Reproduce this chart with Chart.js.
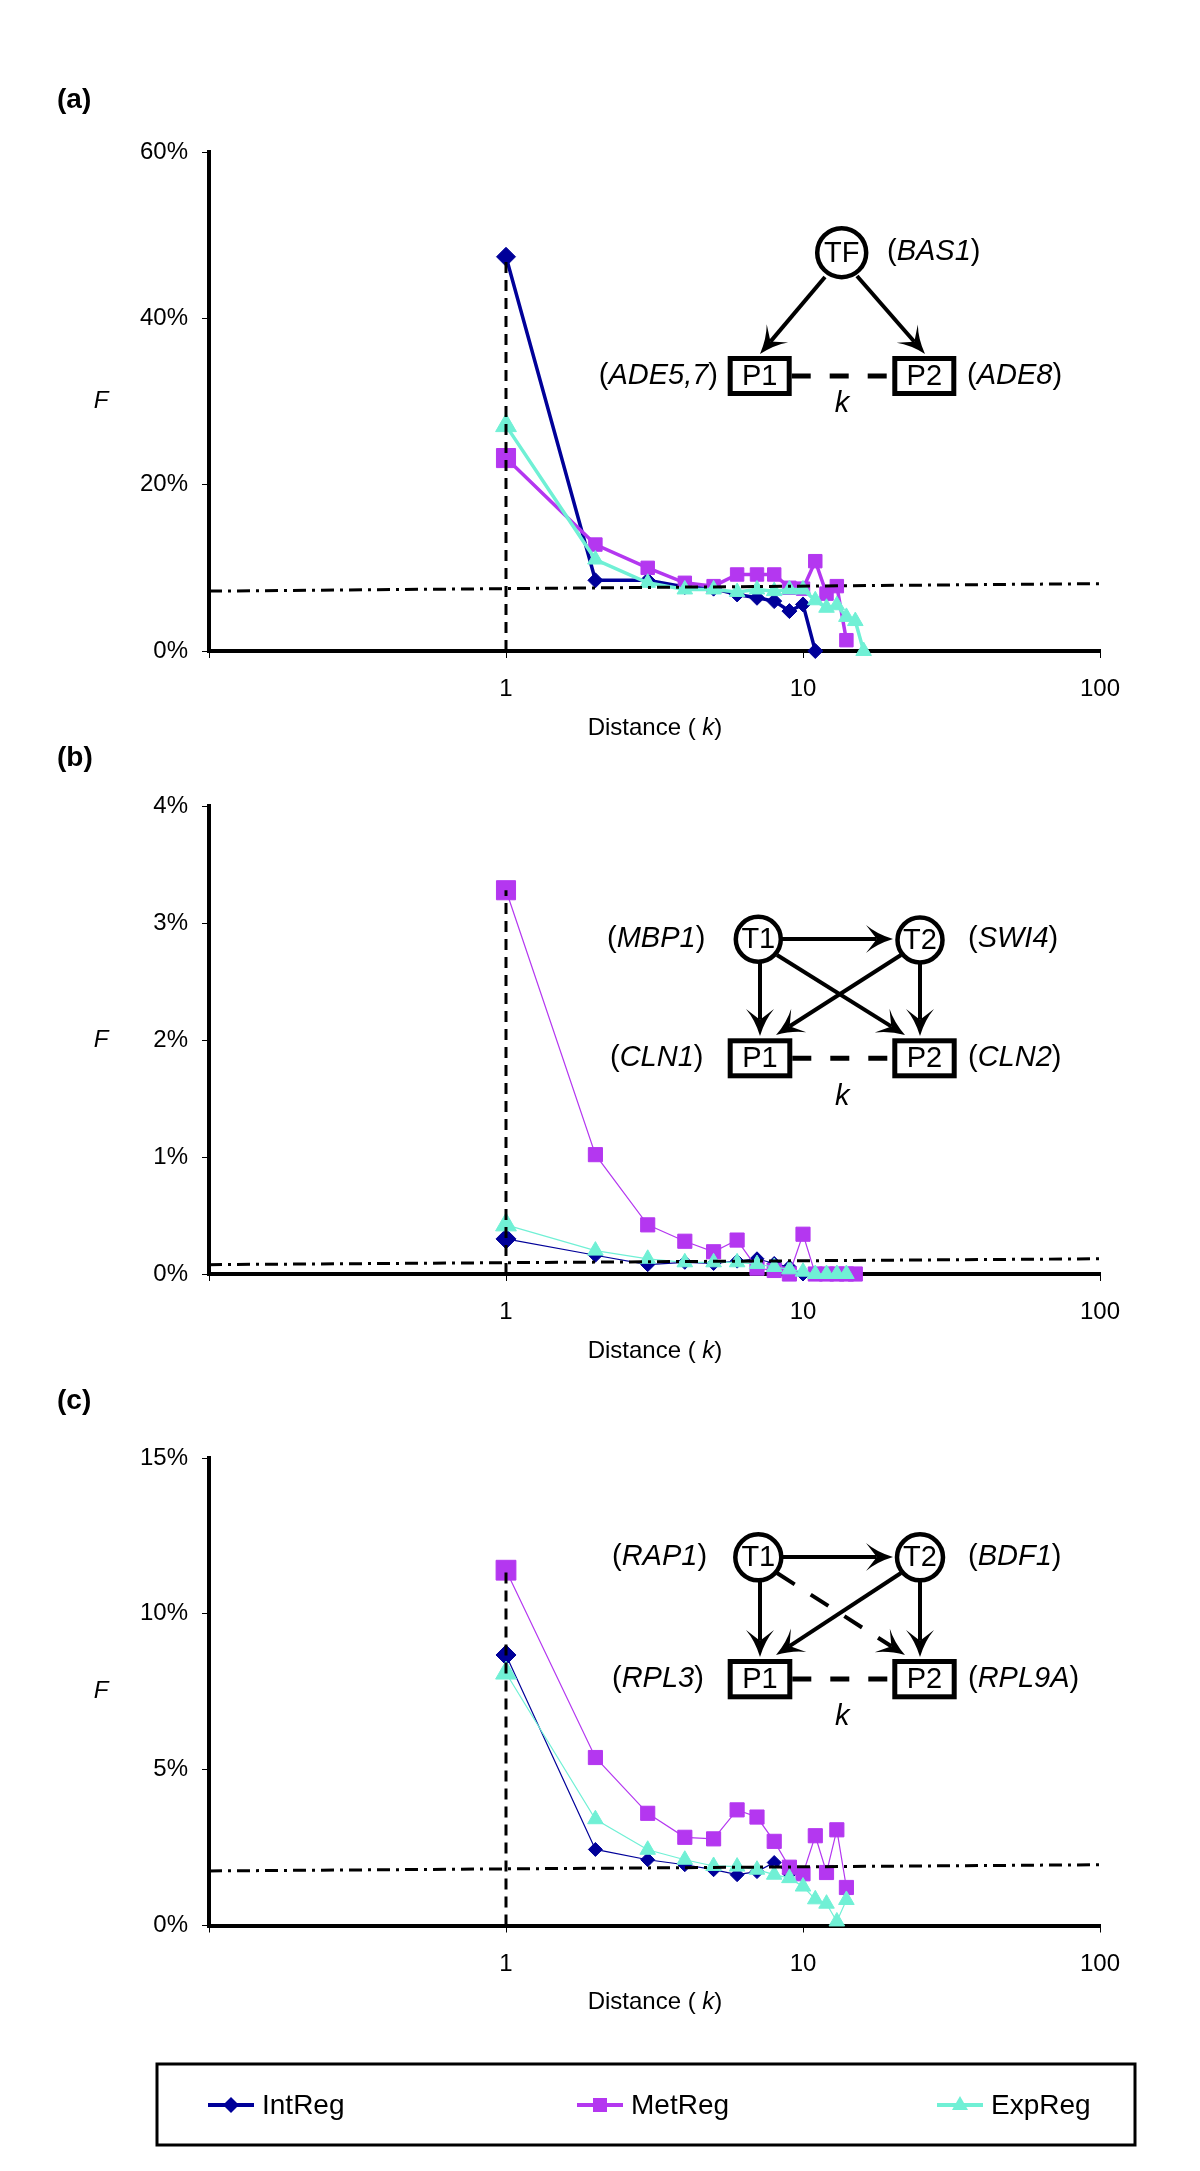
<!DOCTYPE html>
<html>
<head>
<meta charset="utf-8">
<title>Distance between co-regulated promoters</title>
<script src="https://cdn.jsdelivr.net/npm/chart.js@4.4.1/dist/chart.umd.min.js"></script>
<style>
  html, body { margin: 0; padding: 0; background: #fff; }
  #page { position: relative; width: 1200px; height: 2171px; }
  .panel { position: absolute; left: 0; width: 1200px; }
</style>
</head>
<body>
<div id="page">
  <div class="panel" style="top:0;height:742px"><canvas id="chartA"></canvas></div>
  <div class="panel" style="top:742px;height:638px"><canvas id="chartB"></canvas></div>
  <div class="panel" style="top:1380px;height:791px"><canvas id="chartC"></canvas></div>
</div>
<script>
// distances k and axis ticks
const distance = [1, 2, 3, 4, 5, 6, 7, 8, 9, 10, 11, 12, 13, 14, 15, 16];
const xTicks = [0.1, 1, 10, 100];
const refX = [0.1, 100];
const seriesNames = ['IntReg', 'MetReg', 'ExpReg'];
const seriesColors = ['#000099', '#B437F0', '#70F0D5'];

// (a) F in %
const intRegA = [47.4, 8.5, 8.5, 7.7, 7.5, 6.8, 6.4, 6.0, 4.8, 5.6, 0];
const metRegA = [23.2, 12.8, 10.0, 8.2, 7.8, 9.2, 9.2, 9.2, 7.6, 7.5, 10.8, 6.9, 7.8, 1.3];
const expRegA = [27.1, 11.0, 8.2, 7.4, 7.4, 7.1, 7.4, 7.2, 7.4, 7.4, 6.1, 5.2, 5.5, 4.1, 3.6, 0];
const randomA = [7.2, 8.1];
const yTicksA = [0, 20, 40, 60];

// (b)
const intRegB = [0.30, 0.16, 0.08, 0.10, 0.09, 0.11, 0.13, 0.09, 0.06, 0];
const metRegB = [3.28, 1.02, 0.42, 0.28, 0.19, 0.29, 0.05, 0.03, 0, 0.34, 0, 0, 0, 0, 0];
const expRegB = [0.42, 0.20, 0.13, 0.10, 0.10, 0.10, 0.085, 0.06, 0.04, 0.02, 0, 0, 0, 0];
const randomB = [0.08, 0.13];
const yTicksB = [0, 1, 2, 3, 4];

// (c)
const intRegC = [8.68, 2.44, 2.11, 1.95, 1.79, 1.63, 1.73, 2.02, 1.66];
const metRegC = [11.4, 5.39, 3.6, 2.83, 2.78, 3.71, 3.48, 2.70, 1.87, 1.66, 2.88, 1.70, 3.07, 1.22];
const expRegC = [8.1, 3.41, 2.43, 2.11, 1.91, 1.89, 1.79, 1.63, 1.52, 1.25, 0.84, 0.70, 0.13, 0.82];
const randomC = [1.75, 1.95];
const yTicksC = [0, 5, 10, 15];

const FONT = '"Liberation Sans", Arial, Helvetica, sans-serif';

function toPoints(vals) {
  return vals.map((v, i) => ({ x: distance[i], y: v }));
}

// ---------- diagram helpers (page coordinates) ----------
function circleNode(ctx, x, y, r, text) {
  ctx.lineWidth = 4.5;
  ctx.beginPath();
  ctx.arc(x, y, r, 0, Math.PI * 2);
  ctx.stroke();
  ctx.font = '29px ' + FONT;
  ctx.textAlign = 'center';
  ctx.fillText(text, x, y + 1);
}

function boxNode(ctx, x1, y1, x2, y2, text) {
  ctx.lineWidth = 5;
  ctx.strokeRect(x1 + 2.5, y1 + 2.5, x2 - x1 - 5, y2 - y1 - 5);
  ctx.font = '29px ' + FONT;
  ctx.textAlign = 'center';
  ctx.fillText(text, (x1 + x2) / 2, (y1 + y2) / 2 + 1);
}

function geneLabel(ctx, name, x, y, align) {
  const parts = [['(', '29px '], [name, 'italic 29px '], [')', '29px ']];
  let w = 0;
  parts.forEach(p => { ctx.font = p[1] + FONT; w += ctx.measureText(p[0]).width; });
  let cx = align === 'right' ? x - w : x;
  ctx.textAlign = 'left';
  parts.forEach(p => {
    ctx.font = p[1] + FONT;
    ctx.fillText(p[0], cx, y);
    cx += ctx.measureText(p[0]).width;
  });
}

function kLink(ctx, x1, x2, y, ky) {
  ctx.save();
  ctx.lineWidth = 5;
  ctx.setLineDash([19, 19]);
  ctx.beginPath();
  ctx.moveTo(x1, y);
  ctx.lineTo(x2, y);
  ctx.stroke();
  ctx.restore();
  ctx.font = 'italic 29px ' + FONT;
  ctx.textAlign = 'center';
  ctx.fillText('k', (x1 + x2) / 2, ky);
}

function arrow(ctx, x1, y1, x2, y2, dashed) {
  const L = 27, W = 14;
  const len = Math.hypot(x2 - x1, y2 - y1);
  const dx = (x2 - x1) / len, dy = (y2 - y1) / len;
  const nx = -dy, ny = dx;
  const ex = x2 - dx * L * 0.6, ey = y2 - dy * L * 0.6;
  ctx.save();
  ctx.lineWidth = 4;
  if (dashed) ctx.setLineDash([21, 19]);
  ctx.beginPath();
  ctx.moveTo(x1, y1);
  ctx.lineTo(ex, ey);
  ctx.stroke();
  ctx.restore();
  ctx.beginPath();
  ctx.moveTo(x2, y2);
  ctx.quadraticCurveTo(x2 - dx * L * 0.6 + nx * W * 0.35, y2 - dy * L * 0.6 + ny * W * 0.35,
                       x2 - dx * L + nx * W, y2 - dy * L + ny * W);
  ctx.lineTo(ex, ey);
  ctx.lineTo(x2 - dx * L - nx * W, y2 - dy * L - ny * W);
  ctx.quadraticCurveTo(x2 - dx * L * 0.6 - nx * W * 0.35, y2 - dy * L * 0.6 - ny * W * 0.35, x2, y2);
  ctx.closePath();
  ctx.fill();
}

function diagramA(ctx) {
  arrow(ctx, 825, 277, 760, 354);
  arrow(ctx, 857, 276, 925, 354);
  circleNode(ctx, 841.7, 252.7, 24.5, 'TF');
  geneLabel(ctx, 'BAS1', 887, 252, 'left');
  kLink(ctx, 791.7, 892.3, 376, 404);
  boxNode(ctx, 727.7, 356, 791.7, 396, 'P1');
  boxNode(ctx, 892.3, 356, 956.3, 396, 'P2');
  geneLabel(ctx, 'ADE5,7', 718, 376, 'right');
  geneLabel(ctx, 'ADE8', 967, 376, 'left');
}

function diagramB(ctx) {
  arrow(ctx, 781, 939, 893, 939);
  arrow(ctx, 760, 963, 760, 1036);
  arrow(ctx, 920, 964, 920, 1036);
  arrow(ctx, 777, 955, 905, 1035);
  arrow(ctx, 901, 955, 776, 1035);
  circleNode(ctx, 758.3, 939.3, 22.5, 'T1');
  circleNode(ctx, 920, 940, 22.5, 'T2');
  geneLabel(ctx, 'MBP1', 607, 939, 'left');
  geneLabel(ctx, 'SWI4', 968, 939, 'left');
  kLink(ctx, 792.3, 892.3, 1058.3, 1097);
  boxNode(ctx, 727.7, 1038.3, 792.3, 1078.3, 'P1');
  boxNode(ctx, 892.3, 1038.3, 956.7, 1078.3, 'P2');
  geneLabel(ctx, 'CLN1', 610, 1058, 'left');
  geneLabel(ctx, 'CLN2', 968, 1058, 'left');
}

function diagramC(ctx) {
  arrow(ctx, 781, 1557, 893, 1557);
  arrow(ctx, 760, 1581, 760, 1657);
  arrow(ctx, 920, 1582, 920, 1657);
  arrow(ctx, 777, 1573, 905, 1655, true);
  arrow(ctx, 901, 1573, 776, 1655);
  circleNode(ctx, 758.3, 1557.3, 23, 'T1');
  circleNode(ctx, 920, 1557.3, 23, 'T2');
  geneLabel(ctx, 'RAP1', 612, 1557, 'left');
  geneLabel(ctx, 'BDF1', 968, 1557, 'left');
  kLink(ctx, 792.3, 892.3, 1679, 1717);
  boxNode(ctx, 727.7, 1659, 792.3, 1699.3, 'P1');
  boxNode(ctx, 892.3, 1659, 956.7, 1699.3, 'P2');
  geneLabel(ctx, 'RPL3', 612, 1679, 'left');
  geneLabel(ctx, 'RPL9A', 968, 1679, 'left');
}

function legendMarker(ctx, i, x, y) {
  ctx.fillStyle = seriesColors[i];
  ctx.beginPath();
  if (i === 0) {
    ctx.moveTo(x - 8, y); ctx.lineTo(x, y - 8); ctx.lineTo(x + 8, y); ctx.lineTo(x, y + 8);
  } else if (i === 1) {
    ctx.rect(x - 7, y - 7, 14, 14);
  } else {
    ctx.moveTo(x, y - 9); ctx.lineTo(x + 8, y + 5); ctx.lineTo(x - 8, y + 5);
  }
  ctx.closePath();
  ctx.fill();
}

function drawLegend(ctx) {
  ctx.lineWidth = 3;
  ctx.strokeStyle = '#000';
  ctx.strokeRect(157, 2064, 978, 81);
  const xs = [208, 577, 937];
  const y = 2105;
  seriesNames.forEach((name, i) => {
    ctx.strokeStyle = seriesColors[i];
    ctx.lineWidth = 4;
    ctx.beginPath();
    ctx.moveTo(xs[i], y);
    ctx.lineTo(xs[i] + 46, y);
    ctx.stroke();
    legendMarker(ctx, i, xs[i] + 23, y);
    ctx.fillStyle = '#000';
    ctx.font = '28px ' + FONT;
    ctx.textAlign = 'left';
    ctx.fillText(name, xs[i] + 54, y + 1);
  });
}

const panelDecor = {
  chartA: { top: 0, label: '(a)', labelY: 100, diagram: diagramA },
  chartB: { top: 742, label: '(b)', labelY: 758, diagram: diagramB },
  chartC: { top: 1380, label: '(c)', labelY: 1401, diagram: diagramC, legend: true }
};

const decorPlugin = {
  id: 'decor',
  afterDraw(chart) {
    const d = panelDecor[chart.canvas.id];
    const ctx = chart.ctx, a = chart.chartArea;
    ctx.save();
    ctx.fillStyle = '#000';
    ctx.strokeStyle = '#000';
    ctx.textBaseline = 'middle';
    // y axis title
    ctx.font = 'italic 24px ' + FONT;
    ctx.textAlign = 'center';
    ctx.fillText('F', 101, (a.top + a.bottom) / 2);
    // x axis title with italic k
    const parts = [['Distance ( ', '24px '], ['k', 'italic 24px '], [')', '24px ']];
    let w = 0;
    parts.forEach(p => { ctx.font = p[1] + FONT; w += ctx.measureText(p[0]).width; });
    let x = 655 - w / 2;
    ctx.textAlign = 'left';
    parts.forEach(p => {
      ctx.font = p[1] + FONT;
      ctx.fillText(p[0], x, a.bottom + 77);
      x += ctx.measureText(p[0]).width;
    });
    ctx.translate(0, -d.top);
    ctx.font = 'bold 28px ' + FONT;
    ctx.fillText(d.label, 57, d.labelY);
    d.diagram(ctx);
    if (d.legend) drawLegend(ctx);
    ctx.restore();
  }
};

function makePanel(cfg) {
  const areaTop = cfg.areaTop - cfg.top;
  const areaBottom = cfg.areaBottom - cfg.top;
  const xAxisH = cfg.height - areaBottom;
  const firstMax = Math.max(cfg.series[0][0], cfg.series[1][0], cfg.series[2][0]);
  const tickFont = { family: FONT, size: 24 };
  const styles = ['rectRot', 'rect', 'triangle'];
  const radii = cfg.radii;

  const datasets = [
    {
      label: 'k = 1',
      data: [{ x: 1, y: 0 }, { x: 1, y: firstMax }],
      borderColor: '#000', borderWidth: 3, borderDash: [11, 7],
      pointRadius: 0, clip: false, order: 0
    },
    {
      label: 'random',
      data: refX.map((x, i) => ({ x: x, y: cfg.random[i] })),
      borderColor: '#000', borderWidth: 3, borderDash: [13, 6, 3, 6],
      pointRadius: 0, clip: false, order: 0
    }
  ];
  cfg.series.forEach((vals, i) => {
    datasets.push({
      label: seriesNames[i],
      data: toPoints(vals),
      borderColor: seriesColors[i],
      backgroundColor: seriesColors[i],
      pointBackgroundColor: seriesColors[i],
      pointBorderColor: seriesColors[i],
      pointBorderWidth: 1,
      borderWidth: cfg.lineWidth,
      pointStyle: styles[i],
      pointRadius: c => c.dataIndex === 0 ? radii[i][0] : radii[i][1],
      pointHoverRadius: c => c.dataIndex === 0 ? radii[i][0] : radii[i][1],
      tension: 0,
      clip: false,
      order: 3 - i
    });
  });

  return new Chart(document.getElementById(cfg.id), {
    type: 'line',
    data: { datasets: datasets },
    options: {
      responsive: true,
      maintainAspectRatio: false,
      animation: false,
      layout: { padding: { top: areaTop, left: 0, right: 100, bottom: 0 } },
      plugins: { legend: { display: false }, tooltip: { enabled: false } },
      scales: {
        x: {
          type: 'logarithmic',
          min: 0.1,
          max: 100,
          afterBuildTicks: s => { s.ticks = xTicks.map(v => ({ value: v })); },
          afterFit: s => { s.height = xAxisH; },
          ticks: {
            callback: v => v >= 1 ? String(v) : '',
            font: tickFont, color: '#000', padding: 17,
            maxRotation: 0, autoSkip: false
          },
          grid: { drawOnChartArea: false, drawTicks: true, tickLength: 7, color: '#000', lineWidth: 1 },
          border: { display: true, color: '#000', width: 4 }
        },
        y: {
          type: 'linear',
          min: 0,
          max: cfg.yTicks[cfg.yTicks.length - 1],
          afterBuildTicks: s => { s.ticks = cfg.yTicks.map(v => ({ value: v })); },
          afterFit: s => { s.width = 209; },
          ticks: { callback: v => v + '%', font: tickFont, color: '#000', padding: 14 },
          grid: { drawOnChartArea: false, drawTicks: true, tickLength: 7, color: '#000', lineWidth: 1 },
          border: { display: true, color: '#000', width: 4 }
        }
      }
    },
    plugins: [decorPlugin]
  });
}

makePanel({
  id: 'chartA', top: 0, height: 742, areaTop: 152, areaBottom: 651,
  series: [intRegA, metRegA, expRegA], random: randomA, yTicks: yTicksA,
  lineWidth: 3.5, radii: [[9.5, 7.5], [13.5, 9.5], [12, 9]]
});
makePanel({
  id: 'chartB', top: 742, height: 638, areaTop: 806, areaBottom: 1274,
  series: [intRegB, metRegB, expRegB], random: randomB, yTicks: yTicksB,
  lineWidth: 1.2, radii: [[10, 7], [13.5, 10], [12, 9]]
});
makePanel({
  id: 'chartC', top: 1380, height: 791, areaTop: 1458, areaBottom: 1925.5,
  series: [intRegC, metRegC, expRegC], random: randomC, yTicks: yTicksC,
  lineWidth: 1.2, radii: [[10, 7], [14, 10], [12, 9]]
});
</script>
</body>
</html>
